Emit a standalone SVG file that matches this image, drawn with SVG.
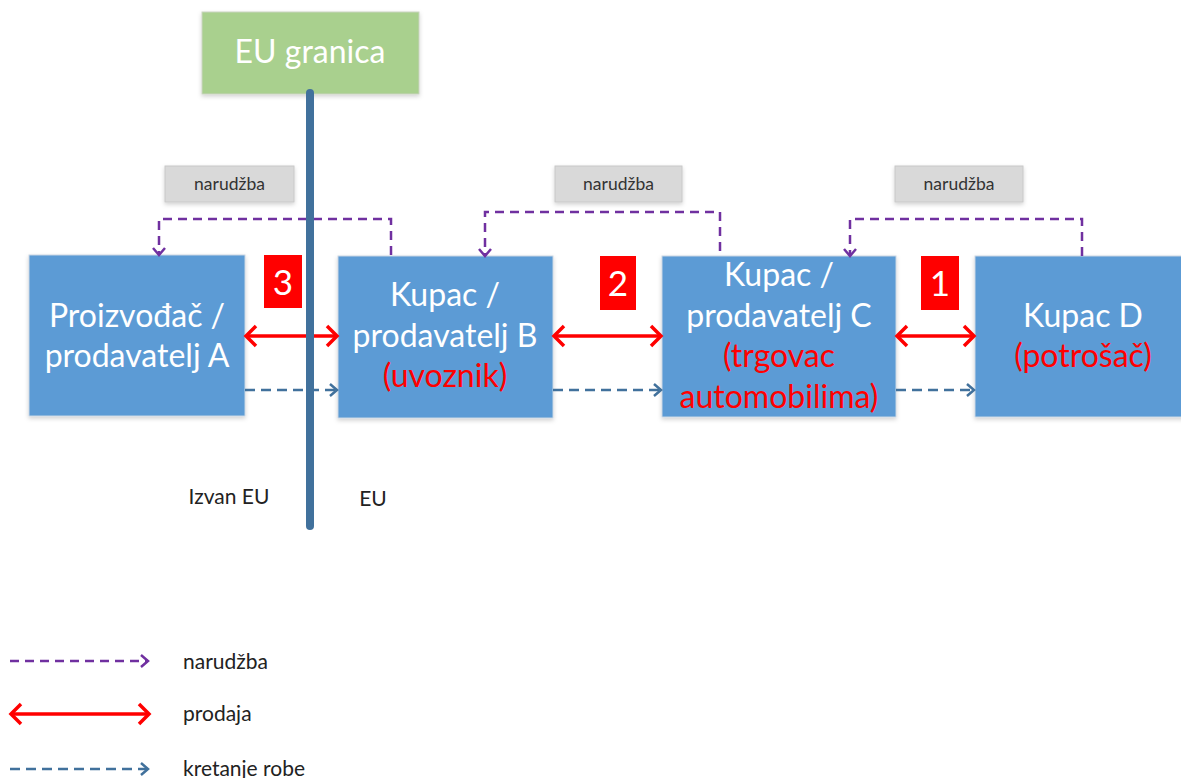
<svg xmlns="http://www.w3.org/2000/svg" width="1181" height="778" viewBox="0 0 1181 778">
<style>
.box{fill:#5B9BD5;stroke:#C9D6E3;stroke-width:1}
.wt{fill:#FFFFFF;font-family:Lato,"Open Sans",sans-serif;font-size:32px;text-anchor:middle}
.rt{fill:#FF0000;font-family:Lato,"Open Sans",sans-serif;font-size:32px;text-anchor:middle}
.num{fill:#FF0000}
.nt{fill:#FFFFFF;font-family:Lato,"Open Sans",sans-serif;font-size:35px;text-anchor:middle}
.gbox{fill:#D9D9D9;stroke:#C8C8C8;stroke-width:1}
.gt{fill:#333333;font-family:Lato,"Open Sans",sans-serif;font-size:17.5px;text-anchor:middle}
.lt{fill:#222222;font-family:Lato,"Open Sans",sans-serif;font-size:21px}
.ord{fill:none;stroke:#7030A0;stroke-width:2.5;stroke-dasharray:9 6}
.sale{fill:none;stroke:#FF0000;stroke-width:3.5}
.goods{fill:none;stroke:#41719C;stroke-width:2.5;stroke-dasharray:10 6}
</style>
<defs>
<marker id="mOrd" markerUnits="userSpaceOnUse" markerWidth="16" markerHeight="16" refX="12" refY="8" orient="auto"><path d="M5,2 L12,8 L5,14" fill="none" stroke="#7030A0" stroke-width="2.5"/></marker>
<marker id="mGoods" markerUnits="userSpaceOnUse" markerWidth="16" markerHeight="16" refX="12" refY="8" orient="auto"><path d="M5,2 L12,8 L5,14" fill="none" stroke="#41719C" stroke-width="2.5"/></marker>
<marker id="mSaleE" markerUnits="userSpaceOnUse" markerWidth="20" markerHeight="24" refX="16" refY="12" orient="auto"><path d="M6,2 L16,12 L6,22" fill="none" stroke="#FF0000" stroke-width="3.5"/></marker>
<marker id="mSaleS" markerUnits="userSpaceOnUse" markerWidth="20" markerHeight="24" refX="4" refY="12" orient="auto"><path d="M14,2 L4,12 L14,22" fill="none" stroke="#FF0000" stroke-width="3.5"/></marker>
<filter id="sh" x="-10%" y="-10%" width="120%" height="130%"><feDropShadow dx="0" dy="2" stdDeviation="2" flood-color="#000" flood-opacity="0.18"/></filter>
</defs>

<g id="eu-granica">
<rect x="202" y="12" width="217" height="82" fill="#A9D08E" stroke="#C9D3C0" stroke-width="1" filter="url(#sh)"/>
<text x="310" y="63" class="wt" font-size="31">EU granica</text>
</g>

<g id="box-a">
<rect class="box" x="29" y="255" width="216" height="161" filter="url(#sh)"/>
<text x="137" y="327" class="wt">Proizvođač /</text>
<text x="137" y="367" class="wt">prodavatelj A</text>
</g>

<g id="box-b">
<rect class="box" x="338" y="256" width="215" height="162" filter="url(#sh)"/>
<text x="445" y="306" class="wt">Kupac /</text>
<text x="445" y="347" class="wt">prodavatelj B</text>
<text x="445" y="387" class="rt">(uvoznik)</text>
</g>

<g id="box-c">
<rect class="box" x="662" y="256" width="234" height="161" filter="url(#sh)"/>
<text x="779" y="286" class="wt">Kupac /</text>
<text x="779" y="327" class="wt">prodavatelj C</text>
<text x="779" y="367" class="rt">(trgovac</text>
<text x="779" y="408" class="rt">automobilima)</text>
</g>

<g id="box-d">
<rect class="box" x="975" y="256" width="215" height="161" filter="url(#sh)"/>
<text x="1083" y="327" class="wt">Kupac D</text>
<text x="1083" y="367" class="rt">(potrošač)</text>
</g>

<g id="num-3"><rect class="num" x="264" y="255" width="38" height="53"/><text x="283" y="295" class="nt">3</text></g>
<g id="num-2"><rect class="num" x="600" y="256" width="36" height="54"/><text x="618" y="296" class="nt">2</text></g>
<g id="num-1"><rect class="num" x="921" y="256" width="38" height="54"/><text x="940" y="296" class="nt">1</text></g>

<g id="label-narudzba-1"><rect class="gbox" x="165" y="166" width="129" height="36" filter="url(#sh)"/><text x="229.5" y="190" class="gt">narudžba</text></g>
<g id="label-narudzba-2"><rect class="gbox" x="555" y="166" width="127" height="36" filter="url(#sh)"/><text x="618.5" y="190" class="gt">narudžba</text></g>
<g id="label-narudzba-3"><rect class="gbox" x="895" y="166" width="128" height="36" filter="url(#sh)"/><text x="959" y="190" class="gt">narudžba</text></g>

<g id="connectors">
<path class="ord" d="M391,255 L391,219 L159,219 L159,255" marker-end="url(#mOrd)"/>
<path class="ord" d="M720,251 L720,212 L485,212 L485,256" marker-end="url(#mOrd)"/>
<path class="ord" d="M1082,256 L1082,219 L850,219 L850,256" marker-end="url(#mOrd)"/>

<line class="goods" x1="245" y1="390" x2="337" y2="390" marker-end="url(#mGoods)"/>
<line class="goods" x1="553" y1="390" x2="661" y2="390" marker-end="url(#mGoods)"/>
<line class="goods" x1="896" y1="390" x2="974" y2="390" marker-end="url(#mGoods)"/>

<line class="sale" x1="246" y1="336" x2="337" y2="336" marker-start="url(#mSaleS)" marker-end="url(#mSaleE)"/>
<line class="sale" x1="554" y1="336" x2="661" y2="336" marker-start="url(#mSaleS)" marker-end="url(#mSaleE)"/>
<line class="sale" x1="897" y1="336" x2="974" y2="336" marker-start="url(#mSaleS)" marker-end="url(#mSaleE)"/>
</g>

<g id="border-line">
<line x1="310" y1="93" x2="310" y2="526" stroke="#41719C" stroke-width="8" stroke-linecap="round"/>
</g>

<g id="region-labels">
<text x="229" y="504" class="lt" text-anchor="middle" font-size="19.5">Izvan EU</text>
<text x="373" y="506" class="lt" text-anchor="middle" font-size="19.5">EU</text>
</g>

<g id="legend">
<line class="ord" x1="10" y1="661" x2="148" y2="661" marker-end="url(#mOrd)"/>
<text x="183" y="669" class="lt">narudžba</text>
<line class="sale" x1="11" y1="714" x2="149" y2="714" marker-start="url(#mSaleS)" marker-end="url(#mSaleE)"/>
<text x="183" y="721" class="lt">prodaja</text>
<line class="goods" x1="10" y1="769" x2="148" y2="769" marker-end="url(#mGoods)"/>
<text x="183" y="776" class="lt">kretanje robe</text>
</g>
</svg>
